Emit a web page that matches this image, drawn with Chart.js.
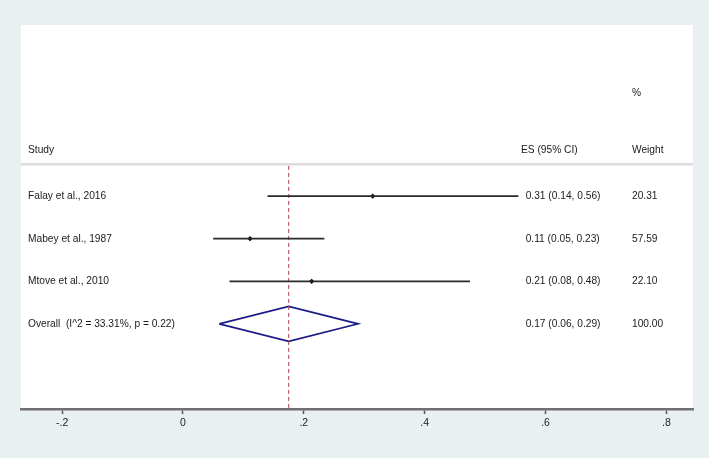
<!DOCTYPE html>
<html>
<head>
<meta charset="utf-8">
<script src="https://cdn.jsdelivr.net/npm/chart.js@4.4.1/dist/chart.umd.min.js"></script>
<style>
html,body{margin:0;padding:0;background:#e8f0f2;}
canvas{display:block;}
</style>
</head>
<body>
<canvas id="c" width="709" height="458"></canvas>
<script>
// ---- data ----
const studies = ["Falay et al., 2016", "Mabey et al., 1987", "Mtove et al., 2010"];
const es = [0.314, 0.111, 0.213];
const ciLow = [0.14, 0.05, 0.077];
const ciHigh = [0.555, 0.234, 0.475];
const esLabels = ["0.31 (0.14, 0.56)", "0.11 (0.05, 0.23)", "0.21 (0.08, 0.48)"];
const weights = ["20.31", "57.59", "22.10"];
const overallLabel = "Overall  (I^2 = 33.31%, p = 0.22)";
const overall = [0.175, 0.06, 0.29]; // es, low, high
const overallEsLabel = "0.17 (0.06, 0.29)";
const overallWeight = "100.00";
const headers = ["Study", "ES (95% CI)", "%", "Weight"];
const xTicks = [-0.2, 0, 0.2, 0.4, 0.6, 0.8];
const xTickLabels = ["-.2", "0", ".2", ".4", ".6", ".8"];

// ---- layout constants ----
const X_MIN = -0.268, X_MAX = 0.844;
const Y_MIN = -3.02, Y_MAX = 6.0;
const overallRow = studies.length + 1;
const FAMILY = '"Liberation Sans", Arial, Helvetica, sans-serif';
const FONT = '10.2px ' + FAMILY;

const datasets = [];
// separator line
datasets.push({data: [{x: X_MIN, y: 0.25}, {x: X_MAX, y: 0.25}], showLine: true, borderColor: '#dcdcdc', borderWidth: 2.5, pointRadius: 0});
// CI lines
studies.forEach((s, i) => {
  datasets.push({data: [{x: ciLow[i], y: i + 1}, {x: ciHigh[i], y: i + 1}], showLine: true, borderColor: '#2a2a2a', borderWidth: 1.8, pointRadius: 0});
});
// overall dashed line
datasets.push({data: [{x: overall[0], y: 0.29}, {x: overall[0], y: Y_MAX}], showLine: true, borderColor: '#a5404a', borderWidth: 1, borderDash: [4, 3], pointRadius: 0});
// points
datasets.push({data: es.map((v, i) => ({x: v, y: i + 1})), showLine: false, pointStyle: 'rectRot', pointRadius: 2.6, backgroundColor: '#000', borderColor: '#000', borderWidth: 0});
// diamond
const h = 0.41;
datasets.push({data: [
  {x: overall[1], y: overallRow}, {x: overall[0], y: overallRow - h},
  {x: overall[2], y: overallRow}, {x: overall[0], y: overallRow + h},
  {x: overall[1], y: overallRow}], showLine: true, borderColor: '#1c1c86', borderWidth: 1.6, pointRadius: 0, tension: 0});

const bgPlugin = {
  id: 'bg',
  beforeDraw(chart) {
    const {ctx, chartArea: a} = chart;
    ctx.save();
    ctx.fillStyle = '#e8f0f2';
    ctx.fillRect(0, 0, chart.width, chart.height);
    ctx.fillStyle = '#ffffff';
    ctx.fillRect(a.left, a.top, a.right - a.left, a.bottom - a.top);
    ctx.restore();
  },
  afterDatasetsDraw(chart) {
    const {ctx, chartArea: a} = chart;
    const ys = chart.scales.y;
    ctx.save();
    ctx.font = FONT;
    ctx.fillStyle = '#1a1a1a';
    ctx.textBaseline = 'middle';
    ctx.textAlign = 'left';
    const colStudy = a.left + 7, colEsHead = 521, colEs = 525.7, colW = 632;
    // headers
    ctx.fillText(headers[0], colStudy, ys.getPixelForValue(-0.07));
    ctx.fillText(headers[1], colEsHead, ys.getPixelForValue(-0.07));
    ctx.fillText(headers[2], colW, ys.getPixelForValue(-1.41));
    ctx.fillText(headers[3], colW, ys.getPixelForValue(-0.07));
    studies.forEach((s, i) => {
      const y = ys.getPixelForValue(i + 1);
      ctx.fillText(s, colStudy, y);
      ctx.fillText(esLabels[i], colEs, y);
      ctx.fillText(weights[i], colW, y);
    });
    const yo = ys.getPixelForValue(overallRow);
    ctx.fillText(overallLabel, colStudy, yo);
    ctx.fillText(overallEsLabel, colEs, yo);
    ctx.fillText(overallWeight, colW, yo);
    ctx.restore();
  }
};

new Chart(document.getElementById('c'), {
  type: 'scatter',
  data: {datasets},
  options: {
    responsive: false,
    animation: false,
    layout: {padding: {left: 21, right: 16, top: 25, bottom: 0}},
    plugins: {legend: {display: false}, tooltip: {enabled: false}},
    scales: {
      x: {
        type: 'linear', min: X_MIN, max: X_MAX,
        afterBuildTicks(s) { s.ticks = xTicks.map(v => ({value: v})); },
        afterFit(s) { s.height = 49; },
        ticks: {callback: (v, i) => xTickLabels[i], color: '#222', font: {size: 10.5, family: FAMILY}, padding: 3, maxRotation: 0, autoSkip: false},
        grid: {drawOnChartArea: false, drawTicks: true, tickLength: 5, tickColor: '#555', tickWidth: 1.5},
        border: {color: '#707070', width: 2.5}
      },
      y: {type: 'linear', display: false, min: Y_MIN, max: Y_MAX, reverse: true}
    }
  },
  plugins: [bgPlugin]
});
</script>
</body>
</html>
